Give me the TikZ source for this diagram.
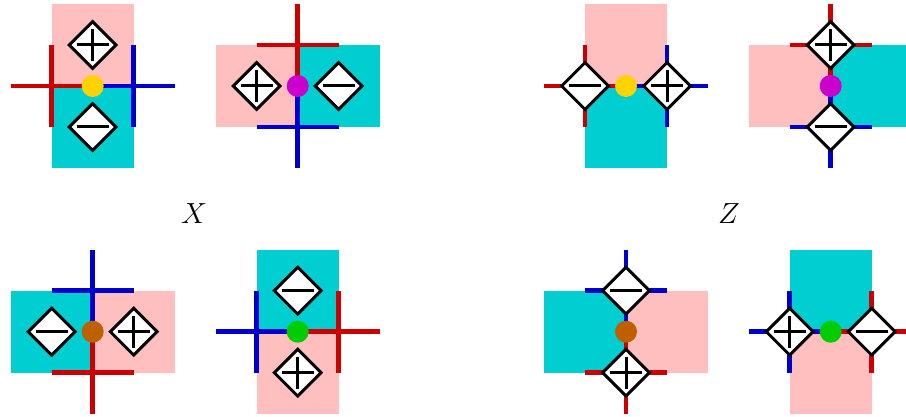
\documentclass[tikz,border=0pt]{standalone}
\usetikzlibrary{shapes.geometric}
\definecolor{lpink}{HTML}{FFBFBF}
\definecolor{lcyan}{HTML}{00CED1}
\definecolor{lred}{HTML}{CC0000}
\definecolor{lblue}{HTML}{0000CC}
\definecolor{lgold}{HTML}{FFD200}
\definecolor{lmag}{HTML}{CC00CC}
\definecolor{lbrown}{HTML}{BF6000}
\definecolor{lgreen}{HTML}{00CC00}
\tikzset{
  dia/.style={diamond, draw=black, fill=white, line width=3pt, minimum size=48pt, inner sep=0pt, aspect=1},
  pdia/.style={dia, path picture={\draw[line width=3pt] ([xshift=-16pt]path picture bounding box.center) -- ([xshift=16pt]path picture bounding box.center) ([yshift=-16pt]path picture bounding box.center) -- ([yshift=16pt]path picture bounding box.center);}},
  mdia/.style={dia, path picture={\draw[line width=3pt] ([xshift=-16pt]path picture bounding box.center) -- ([xshift=16pt]path picture bounding box.center);}},
  rl/.style={draw=lred, line width=4.5pt},
  bl/.style={draw=lblue, line width=4.5pt},
  dot/.style={circle, inner sep=0pt, minimum size=22pt},
  lab/.style={font=\Huge, scale=1.17}
}
\begin{document}
\begin{tikzpicture}[x=1pt,y=-1pt]
\useasboundingbox (0,0) rectangle (906,417);
\clip (0,0) rectangle (906,417);
% Panel 1
\begin{scope}[shift={(92.7,86)}]
  \fill[lpink] (-41,-82) rectangle (41,0);
  \fill[lcyan] (-41,0) rectangle (41,82);
  \draw[rl] (-82,0) -- (0,0) (-41,-41) -- (-41,41);
  \draw[bl] (0,0) -- (82,0) (41,-41) -- (41,41);
  \node[dot, fill=lgold] (c1) at (0,0) {};
  \node[pdia] (p1) at (0,-41) {};
  \node[mdia] (m1) at (0,41) {};
\end{scope}
% Panel 2
\begin{scope}[shift={(297.7,86)}]
  \fill[lpink] (-82,-41) rectangle (0,41);
  \fill[lcyan] (0,-41) rectangle (82,41);
  \draw[rl] (0,-82) -- (0,0) (-41,-41) -- (41,-41);
  \draw[bl] (0,0) -- (0,82) (-41,41) -- (41,41);
  \node[dot, fill=lmag] (c2) at (0,0) {};
  \node[pdia] (p2) at (-41,0) {};
  \node[mdia] (m2) at (41,0) {};
\end{scope}
% Panel 3
\begin{scope}[shift={(626,86)}]
  \fill[lpink] (-41,-82) rectangle (41,0);
  \fill[lcyan] (-41,0) rectangle (41,82);
  \draw[rl] (-82,0) -- (0,0) (-41,-41) -- (-41,41);
  \draw[bl] (0,0) -- (82,0) (41,-41) -- (41,41);
  \node[dot, fill=lgold] (c3) at (0,0) {};
  \node[mdia] (m3) at (-41,0) {};
  \node[pdia] (p3) at (41,0) {};
\end{scope}
% Panel 4
\begin{scope}[shift={(830.7,86)}]
  \fill[lpink] (-82,-41) rectangle (0,41);
  \fill[lcyan] (0,-41) rectangle (82,41);
  \draw[rl] (0,-82) -- (0,0) (-41,-41) -- (41,-41);
  \draw[bl] (0,0) -- (0,82) (-41,41) -- (41,41);
  \node[dot, fill=lmag] (c4) at (0,0) {};
  \node[pdia] (p4) at (0,-41) {};
  \node[mdia] (m4) at (0,41) {};
\end{scope}
% Panel 5
\begin{scope}[shift={(92.7,331.7)}]
  \fill[lcyan] (-82,-41) rectangle (0,41);
  \fill[lpink] (0,-41) rectangle (82,41);
  \draw[bl] (0,-82) -- (0,0) (-41,-41) -- (41,-41);
  \draw[rl] (0,0) -- (0,82) (-41,41) -- (41,41);
  \node[dot, fill=lbrown] (c5) at (0,0) {};
  \node[mdia] (m5) at (-41,0) {};
  \node[pdia] (p5) at (41,0) {};
\end{scope}
% Panel 6
\begin{scope}[shift={(297.7,331.7)}]
  \fill[lcyan] (-41,-82) rectangle (41,0);
  \fill[lpink] (-41,0) rectangle (41,82);
  \draw[bl] (-82,0) -- (0,0) (-41,-41) -- (-41,41);
  \draw[rl] (0,0) -- (82,0) (41,-41) -- (41,41);
  \node[dot, fill=lgreen] (c6) at (0,0) {};
  \node[mdia] (m6) at (0,-41) {};
  \node[pdia] (p6) at (0,41) {};
\end{scope}
% Panel 7
\begin{scope}[shift={(626,331.7)}]
  \fill[lcyan] (-82,-41) rectangle (0,41);
  \fill[lpink] (0,-41) rectangle (82,41);
  \draw[bl] (0,-82) -- (0,0) (-41,-41) -- (41,-41);
  \draw[rl] (0,0) -- (0,82) (-41,41) -- (41,41);
  \node[dot, fill=lbrown] (c7) at (0,0) {};
  \node[mdia] (m7) at (0,-41) {};
  \node[pdia] (p7) at (0,41) {};
\end{scope}
% Panel 8
\begin{scope}[shift={(830.7,331.7)}]
  \fill[lcyan] (-41,-82) rectangle (41,0);
  \fill[lpink] (-41,0) rectangle (41,82);
  \draw[bl] (-82,0) -- (0,0) (-41,-41) -- (-41,41);
  \draw[rl] (0,0) -- (82,0) (41,-41) -- (41,41);
  \node[dot, fill=lgreen] (c8) at (0,0) {};
  \node[pdia] (p8) at (-41,0) {};
  \node[mdia] (m8) at (41,0) {};
\end{scope}
\node[lab] (lx) at (194,214) {$X$};
\node[lab] (lz) at (729,214) {$Z$};
\end{tikzpicture}
\end{document}
